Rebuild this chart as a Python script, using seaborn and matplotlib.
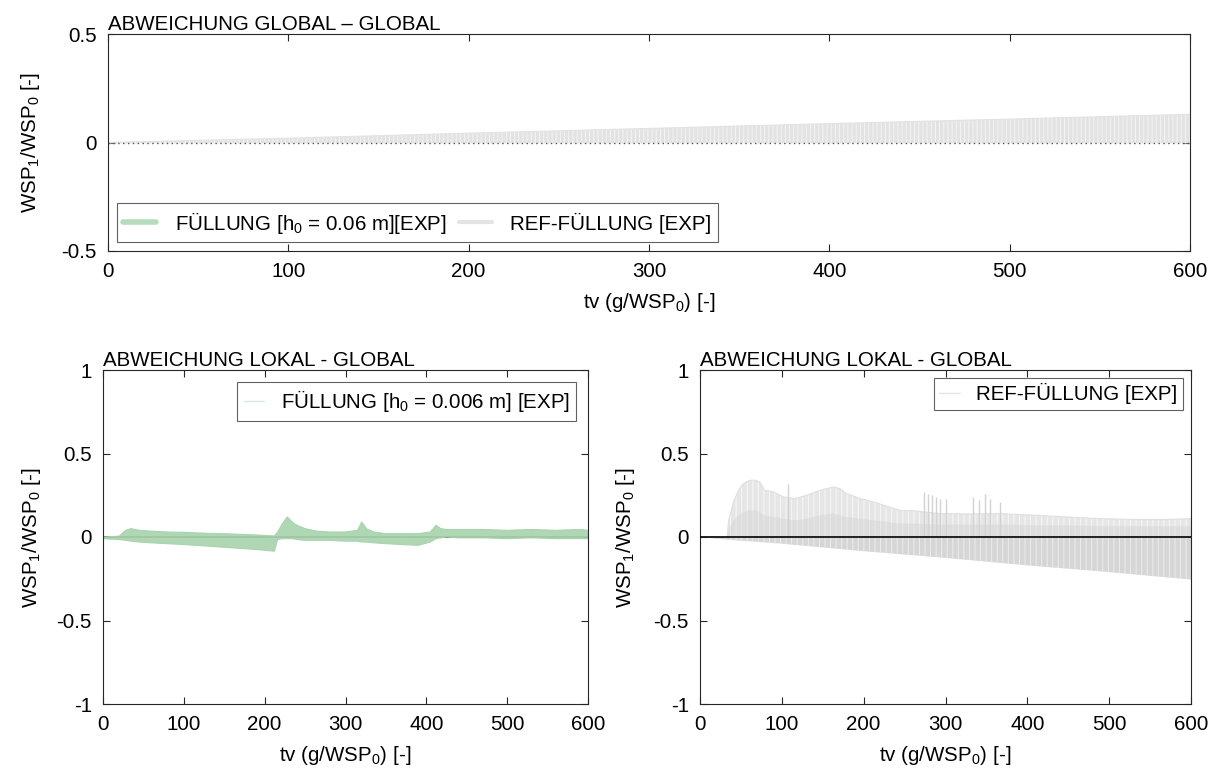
import numpy as np
import pandas as pd
import matplotlib
matplotlib.use("Agg")
import matplotlib.pyplot as plt
from matplotlib.lines import Line2D
import seaborn as sns

# ---------------- data ----------------
# Top panel: REF-FÜLLUNG oscillation envelope (global - global)
top_x = [0, 100, 200, 300, 400, 500, 600]
top_upper = [0.0, 0.02, 0.043, 0.065, 0.087, 0.108, 0.13]
top_lower = [-0.004, -0.004, -0.004, -0.004, -0.004, -0.004, -0.004]

# Bottom-left: FÜLLUNG h0 = 0.006 m envelope (lokal - global)
left_x = [0, 20, 28, 35, 45, 60, 80, 100, 130, 160, 190, 212, 216, 222, 228,
          234, 240, 250, 265, 280, 300, 315, 320, 326, 335, 350, 370, 390, 405,
          412, 418, 425, 440, 470, 500, 530, 560, 590, 600]
left_upper = [0.0, 0.005, 0.04, 0.05, 0.04, 0.035, 0.03, 0.028, 0.022, 0.018,
              0.012, 0.006, 0.03, 0.08, 0.12, 0.09, 0.07, 0.05, 0.035, 0.03,
              0.03, 0.04, 0.09, 0.05, 0.03, 0.02, 0.02, 0.02, 0.03, 0.07,
              0.05, 0.045, 0.045, 0.045, 0.04, 0.045, 0.04, 0.045, 0.04]
left_lower = [-0.01, -0.015, -0.02, -0.025, -0.03, -0.035, -0.04, -0.045,
              -0.055, -0.065, -0.075, -0.085, -0.015, -0.01, -0.01, -0.01,
              -0.015, -0.02, -0.02, -0.02, -0.025, -0.025, -0.03, -0.03,
              -0.035, -0.04, -0.045, -0.05, -0.03, -0.01, -0.005, 0.0,
              -0.005, -0.005, -0.01, -0.005, -0.01, -0.01, -0.01]

# Bottom-right: REF-FÜLLUNG envelope (lokal - global)
right_x = [0, 33, 35, 41, 47, 53, 61, 67, 73, 79, 90, 102, 116, 130, 147, 163,
           171, 179, 196, 212, 228, 244, 261, 293, 326, 367, 407, 448, 489,
           530, 570, 600]
right_upper = [0.0, 0.0, 0.1, 0.21, 0.28, 0.32, 0.34, 0.34, 0.33, 0.28, 0.27,
               0.24, 0.23, 0.25, 0.28, 0.30, 0.29, 0.26, 0.23, 0.21, 0.185,
               0.16, 0.158, 0.14, 0.138, 0.14, 0.131, 0.12, 0.11, 0.105,
               0.105, 0.11]
right_inner = [0.0, 0.0, 0.05, 0.1, 0.13, 0.15, 0.16, 0.16, 0.15, 0.13, 0.12,
               0.11, 0.1, 0.11, 0.13, 0.14, 0.13, 0.12, 0.11, 0.1, 0.09,
               0.08, 0.08, 0.075, 0.075, 0.075, 0.07, 0.07, 0.065, 0.065,
               0.065, 0.065]
right_lx = [0, 30, 100, 200, 300, 400, 500, 600]
right_lower = [0.0, -0.015, -0.04, -0.085, -0.125, -0.17, -0.21, -0.255]
spike_x = [107, 274, 279, 284, 288, 293, 301, 334, 341, 348, 354, 367]
spike_h = [0.32, 0.27, 0.26, 0.25, 0.24, 0.23, 0.23, 0.24, 0.22, 0.26, 0.23, 0.21]

x_ticks = [0, 100, 200, 300, 400, 500, 600]
top_yticks = [-0.5, 0, 0.5]
bot_yticks = [-1, -0.5, 0, 0.5, 1]

# ---------------- style ----------------
sns.set_theme(style="ticks")
plt.rcParams["font.family"] = ["Liberation Sans", "DejaVu Sans"]
plt.rcParams["mathtext.fontset"] = "custom"
plt.rcParams["mathtext.rm"] = "Liberation Sans"
plt.rcParams["mathtext.it"] = "Liberation Sans"
plt.rcParams["mathtext.bf"] = "Liberation Sans"
plt.rcParams["hatch.linewidth"] = 0.7
plt.rcParams["hatch.color"] = "white"
for k in ["text.color", "axes.labelcolor", "xtick.color", "ytick.color",
          "axes.titlecolor"]:
    plt.rcParams[k] = "black"

FS = 14.8
GREEN = "#a8d4ae"
GREY = "#e3e3e3"
GREY_D = "#d6d6d6"
YLAB = "WSP$_1$/WSP$_0$ [-]"
XLAB = "tv (g/WSP$_0$) [-]"

fig = plt.figure(figsize=(12.19, 7.76), dpi=100)
W, H = 1219, 776


def mk_axes(l, r, t, b):
    return fig.add_axes([l / W, 1 - b / H, (r - l) / W, (b - t) / H])


def style(ax, yticks, ylim, title, yticklabels, ylabpad=14):
    ax.set_xlim(0, 600)
    ax.set_ylim(*ylim)
    ax.set_xticks(x_ticks)
    ax.set_xticklabels([str(v) for v in x_ticks], fontsize=FS)
    ax.set_yticks(yticks)
    ax.set_yticklabels(yticklabels, fontsize=FS)
    ax.tick_params(direction="in", top=True, right=True, length=5,
                   width=0.8, color="#262626", pad=8)
    for s in ax.spines.values():
        s.set_visible(True)
        s.set_linewidth(0.8)
        s.set_color("#262626")
    ax.set_xlabel(XLAB, fontsize=FS, labelpad=7)
    ax.set_ylabel(YLAB, fontsize=FS, labelpad=ylabpad)
    ax.set_title(title, loc="left", fontsize=FS, pad=3)


def frame(leg):
    leg.get_frame().set_edgecolor("#3a3a3a")
    leg.get_frame().set_linewidth(0.8)


# ---------------- top panel ----------------
ax1 = mk_axes(108, 1190, 34, 251)
ax1.fill_between(top_x, top_lower, top_upper, facecolor=GREY,
                 edgecolor="#f4f4f4", hatch="||||", linewidth=0, zorder=2)
sns.lineplot(x=top_x, y=top_upper, ax=ax1, color=GREY, lw=0.8, zorder=2)
ax1.axhline(0, color="#555555", lw=1.0, ls=(0, (1, 2.5)), zorder=3)
style(ax1, top_yticks, (-0.5, 0.5), "ABWEICHUNG GLOBAL – GLOBAL",
      ["-0.5", "0", "0.5"])
h1 = [Line2D([], [], color="#b7dcbd", lw=4),
      Line2D([], [], color="#e4e4e4", lw=3)]
leg1 = ax1.legend(h1, ["FÜLLUNG [h$_0$ = 0.06 m][EXP]", "REF-FÜLLUNG [EXP]"],
                  loc="lower left", ncol=2, fontsize=FS, frameon=True,
                  fancybox=False, borderaxespad=0.45, columnspacing=0.6,
                  handlelength=1.6, handletextpad=0.9, borderpad=0.3)
frame(leg1)

# ---------------- bottom-left panel ----------------
ax2 = mk_axes(103, 588, 370, 704)
ax2.axhline(0, color="#222222", lw=1.2, zorder=1)
ax2.fill_between(left_x, left_lower, left_upper, facecolor=GREEN,
                 edgecolor="none", alpha=0.92, zorder=2)
sns.lineplot(x=left_x, y=left_upper, ax=ax2, color=GREEN, lw=0.8, zorder=2)
sns.lineplot(x=left_x, y=left_lower, ax=ax2, color=GREEN, lw=0.8, zorder=2)
style(ax2, bot_yticks, (-1, 1), "ABWEICHUNG LOKAL - GLOBAL",
      ["-1", "-0.5", "0", "0.5", "1"], ylabpad=10)
leg2 = ax2.legend([Line2D([], [], color="#d5ecd9", lw=1)],
                  ["FÜLLUNG [h$_0$ = 0.006 m] [EXP]"], loc="upper right",
                  fontsize=FS, frameon=True, fancybox=False,
                  borderaxespad=0.6, handlelength=1.0, handletextpad=0.8,
                  borderpad=0.3)
frame(leg2)

# ---------------- bottom-right panel ----------------
ax3 = mk_axes(700, 1191, 370, 704)
ax3.fill_between(right_x, 0, right_upper, facecolor="#e6e6e6",
                 edgecolor="#f7f7f7", hatch="|||", linewidth=0, zorder=2)
ax3.fill_between(right_x, 0, right_inner, facecolor=GREY_D,
                 edgecolor="#e8e8e8", hatch="|||", linewidth=0, alpha=0.5,
                 zorder=2)
ax3.fill_between(right_lx, right_lower, 0, facecolor=GREY_D,
                 edgecolor="#ececec", hatch="|||", linewidth=0, zorder=2)
sns.lineplot(x=right_x, y=right_upper, ax=ax3, color="#e0e0e0", lw=0.8,
             zorder=2)
ax3.vlines(spike_x, 0, spike_h, color="#d2d2d2", lw=1.0, zorder=2)
ax3.axhline(0, color="black", lw=1.2, zorder=3)
style(ax3, bot_yticks, (-1, 1), "ABWEICHUNG LOKAL - GLOBAL",
      ["-1", "-0.5", "0", "0.5", "1"], ylabpad=12)
leg3 = ax3.legend([Line2D([], [], color="#e4e4e4", lw=1)],
                  ["REF-FÜLLUNG [EXP]"], loc="upper right", fontsize=FS,
                  frameon=True, fancybox=False, borderaxespad=0.4,
                  handlelength=1.0, handletextpad=0.8, borderpad=0.25)
frame(leg3)

fig.savefig("out.png", dpi=100)
